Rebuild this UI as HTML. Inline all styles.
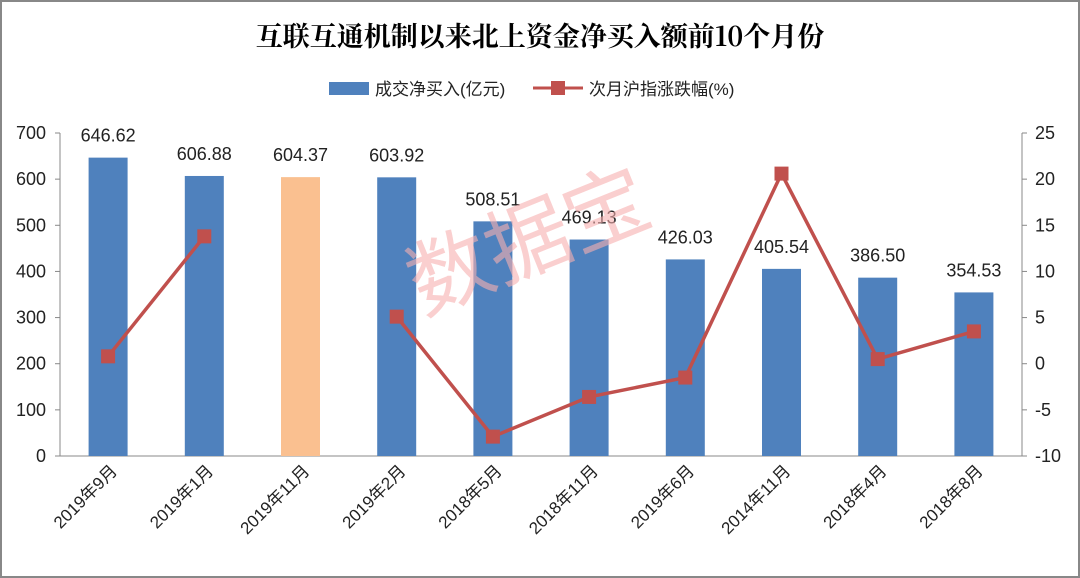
<!DOCTYPE html>
<html><head><meta charset="utf-8"><style>
body{margin:0;background:#fff;}
svg{display:block;font-family:"Liberation Sans","Noto Sans CJK SC",sans-serif;}
</style></head><body>
<svg id="chart" width="1080" height="578">
<rect x="1" y="1" width="1078" height="576" fill="#fff" stroke="#888" stroke-width="2"/>
<text x="540" y="46" text-anchor="middle" font-size="27" font-weight="bold" font-family="'Noto Serif CJK SC','Liberation Serif',serif" fill="#000">互联互通机制以来北上资金净买入额前10个月份</text>
<g>
<rect x="329" y="82" width="40" height="13" fill="#4f81bd"/>
<text x="375" y="95" font-size="17" fill="#222">成交净买入(亿元)</text>
<line x1="533" y1="88" x2="583" y2="88" stroke="#c0504d" stroke-width="3"/>
<rect x="551" y="81" width="14" height="14" fill="#c0504d"/>
<text x="589" y="95" font-size="17" fill="#222">次月沪指涨跌幅(%)</text>
</g>
<g id="axes"></g><g id="bars"></g><g id="line"></g>
<text x="530" y="270" text-anchor="middle" font-size="84" fill="#f7b0b0" opacity="0.6" transform="rotate(-22 530 245)">数据宝</text>
</svg>
<script>
const categories=["2019年9月","2019年1月","2019年11月","2019年2月","2018年5月","2018年11月","2019年6月","2014年11月","2018年4月","2018年8月"];
const barValues=[646.62,606.88,604.37,603.92,508.51,469.13,426.03,405.54,386.50,354.53];
const lineValues=[0.8,13.8,null,5.1,-7.9,-3.6,-1.5,20.6,0.5,3.5];
const leftTicks=[0,100,200,300,400,500,600,700];
const rightTicks=[-10,-5,0,5,10,15,20,25];
const highlightIndex=2;
const NS="http://www.w3.org/2000/svg";
const X0=60,X1=1022,YT=133,YB=456;
const band=(X1-X0)/categories.length;
const xc=i=>X0+band*(i+0.5);
const yL=v=>YB-(v/700)*(YB-YT);
const yR=v=>YB-((v+10)/35)*(YB-YT);
function mk(tag,attrs,parent,text){const e=document.createElementNS(NS,tag);for(const k in attrs)e.setAttribute(k,attrs[k]);if(text!=null)e.textContent=text;parent.appendChild(e);return e;}
const ax=document.getElementById('axes');
let e=mk('line',{x1:X0,y1:YT,x2:X0,y2:YB,stroke:'#888'},ax);


e=mk('line',{x1:X1,y1:YT,x2:X1,y2:YB,stroke:'#888'},ax);


e=mk('line',{x1:X0,y1:YB,x2:X1,y2:YB,stroke:'#888'},ax);


leftTicks.forEach(t=>{const y=yL(t);
 const l=mk('line',{x1:X0-5,y1:y,x2:X0,y2:y,stroke:'#888'},ax);
 
 
 const tx=mk('text',{x:46,y:y+6,'text-anchor':'end','font-size':18,fill:'#222'},ax,String(t));
 
 });
rightTicks.forEach(t=>{const y=yR(t);
 const l=mk('line',{x1:X1,y1:y,x2:X1+5,y2:y,stroke:'#888'},ax);
 
 
 const tx=mk('text',{x:1035,y:y+6,'font-size':18,fill:'#222'},ax,String(t));
 
 });
const bg=document.getElementById('bars');
barValues.forEach((v,i)=>{const x=xc(i),y=yL(v);
 const r=mk('rect',{x:x-19.5,y:y,width:39,height:YB-y,fill:i===highlightIndex?'#fac090':'#4f81bd'},bg);
 
 
 const t=mk('text',{x:x,y:y-16,'text-anchor':'middle','font-size':18,fill:'#222'},bg,v.toFixed(2));
 
 
 const c=mk('text',{x:x+10,y:YB+16,'text-anchor':'end','font-size':17,fill:'#222',transform:`rotate(-45 ${x+10} ${YB+16})`},bg,categories[i]);
 
 });
const lg=document.getElementById('line');
let segs=[],cur=[];
lineValues.forEach((v,i)=>{if(v==null){if(cur.length)segs.push(cur);cur=[];}else cur.push([xc(i),yR(v)]);});
if(cur.length)segs.push(cur);
segs.forEach(s=>{
 const pl=mk('polyline',{points:s.map(p=>p.join(',')).join(' '),fill:'none',stroke:'#c0504d','stroke-width':3.5},lg);
 
 
 s.forEach(p=>{const m=mk('rect',{x:p[0]-7,y:p[1]-7,width:14,height:14,fill:'#c0504d'},lg);
  
  });
});
</script>
</body></html>
